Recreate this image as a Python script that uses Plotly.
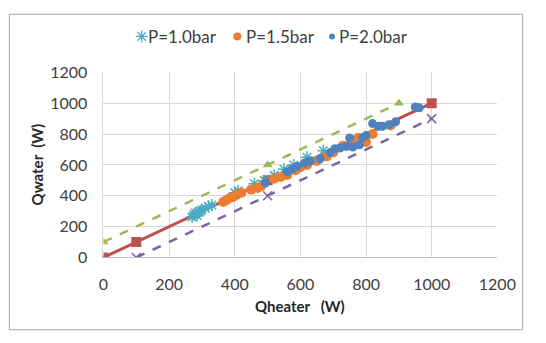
import plotly.graph_objects as go

# Reference lines
ref_x = [0, 100, 500, 1000]
ref_y = [0, 100, 500, 1000]
upper_x = [0, 500, 900]
upper_y = [100, 600, 1000]
lower_x = [100, 500, 1000]
lower_y = [0, 400, 900]

# P=1.0bar
p10_x = [270, 275, 280, 285, 290, 295, 300, 310, 320, 330, 400, 410, 460, 490, 520, 550, 580, 620, 670]
p10_y = [262, 278, 288, 272, 292, 300, 308, 320, 332, 340, 420, 432, 478, 498, 532, 572, 600, 650, 692]

# P=1.5bar
p15_x = [365, 375, 385, 395, 405, 420, 450, 470, 480, 520, 540, 560, 585, 600, 620, 650, 680, 700, 730, 760, 775, 800, 820, 875]
p15_y = [360, 372, 385, 392, 405, 420, 440, 450, 462, 510, 522, 535, 565, 585, 600, 625, 655, 680, 725, 745, 775, 748, 800, 856]

# P=2.0bar
p20_x = [493, 560, 575, 590, 612, 630, 660, 690, 705, 720, 740, 750, 760, 780, 790, 800, 820, 840, 850, 870, 890, 950, 962]
p20_y = [483, 555, 575, 590, 612, 625, 640, 680, 705, 710, 720, 775, 716, 730, 778, 790, 868, 850, 850, 860, 880, 975, 970]

series_names = ["P=1.0bar", "P=1.5bar", "P=2.0bar"]
x_title = "Qheater   (W)"
y_title = "Qwater  (W)"

W, H = 546, 343
# plot-area box in pixels
PL, PR, PT, PB = 103, 515, 66, 262

C_STAR = "#4BACC6"
C_ORANGE = "#ED7D31"
C_BLUE = "#4F81BD"
FONT = "Lato, Liberation Sans, Arial, sans-serif"


def fx(p):
    return p / W


def fy(p):
    return 1 - p / H


fig = go.Figure()

fig.add_trace(go.Scatter(x=upper_x, y=upper_y, mode="lines+markers", showlegend=False,
                         line=dict(color="#9BBB59", width=2.5, dash="dash"),
                         marker=dict(symbol="triangle-up", size=9, color="#9BBB59")))
fig.add_trace(go.Scatter(x=lower_x, y=lower_y, mode="lines+markers", showlegend=False,
                         line=dict(color="#8064A2", width=2.5, dash="dash"),
                         marker=dict(symbol="x-thin-open", size=9, color="#8064A2",
                                     line=dict(color="#8064A2", width=1.5))))
fig.add_trace(go.Scatter(x=ref_x, y=ref_y, mode="lines+markers", showlegend=False,
                         line=dict(color="#C0504D", width=3),
                         marker=dict(symbol="square", size=10, color="#C0504D")))

fig.add_trace(go.Scatter(x=p10_x, y=p10_y, mode="markers", name=series_names[0], showlegend=False,
                         marker=dict(symbol="asterisk-open", size=10, color=C_STAR,
                                     line=dict(color=C_STAR, width=1.5))))
fig.add_trace(go.Scatter(x=p15_x, y=p15_y, mode="markers", name=series_names[1], showlegend=False,
                         marker=dict(symbol="circle", size=10, color=C_ORANGE)))
fig.add_trace(go.Scatter(x=p20_x, y=p20_y, mode="markers", name=series_names[2], showlegend=False,
                         marker=dict(symbol="circle", size=9, color=C_BLUE)))

# Hand-made legend: symbols on a full-figure pixel overlay axis, text as annotations
leg_sym_x = [143, 243, 342]
leg_text_x = [148, 250, 347]
leg_y = 28
leg_styles = [
    dict(symbol="asterisk-open", size=10, color=C_STAR, line=dict(color=C_STAR, width=1.3)),
    dict(symbol="circle", size=8, color=C_ORANGE),
    dict(symbol="circle", size=6, color=C_BLUE),
]
for i, name in enumerate(series_names):
    fig.add_trace(go.Scatter(x=[leg_sym_x[i]], y=[leg_y], mode="markers", showlegend=False,
                             marker=leg_styles[i], xaxis="x2", yaxis="y2", hoverinfo="skip"))
    fig.add_annotation(x=fx(leg_text_x[i]), y=fy(leg_y), xref="paper", yref="paper", text=name,
                       showarrow=False, xanchor="left", yanchor="middle",
                       font=dict(family=FONT, size=17, color="#404040"))

# Axis titles
fig.add_annotation(x=fx((PL + PR) / 2), y=fy(313), xref="paper", yref="paper", text="<b>%s</b>" % x_title,
                   showarrow=False, xanchor="center", yanchor="middle",
                   font=dict(family=FONT, size=15, color="#262626"))
fig.add_annotation(x=fx(33), y=fy((PT + PB) / 2), xref="paper", yref="paper", text="<b>%s</b>" % y_title,
                   showarrow=False, xanchor="center", yanchor="middle", textangle=-90,
                   font=dict(family=FONT, size=15, color="#262626"))

# Chart border
fig.add_shape(type="rect", xref="paper", yref="paper",
              x0=fx(4.5), x1=fx(541.5), y0=fy(338.5), y1=fy(4.5),
              line=dict(color="#A6A6A6", width=1), fillcolor="rgba(0,0,0,0)")

fig.update_layout(
    width=W, height=H,
    margin=dict(l=0, r=0, t=0, b=0, pad=0),
    paper_bgcolor="white", plot_bgcolor="rgba(0,0,0,0)",
    font=dict(family=FONT, size=16, color="#404040"),
    showlegend=False,
    xaxis=dict(domain=[PL / W, PR / W], anchor="y", range=[0, 1200], dtick=200,
               showgrid=True, gridcolor="#D9D9D9", gridwidth=1,
               zeroline=False, showline=True, linecolor="#BFBFBF",
               ticks="outside", ticklen=12, tickcolor="rgba(0,0,0,0)",
               tickfont=dict(family=FONT, size=16, color="#404040")),
    yaxis=dict(domain=[(H - PB) / H, (H - PT) / H], anchor="x", range=[0, 1200], dtick=200,
               showgrid=True, gridcolor="#D9D9D9", gridwidth=1,
               zeroline=False, showline=True, linecolor="#D9D9D9",
               ticks="outside", ticklen=12, tickcolor="rgba(0,0,0,0)",
               tickfont=dict(family=FONT, size=16, color="#404040")),
    xaxis2=dict(domain=[0, 1], anchor="y2", range=[0, W], visible=False, fixedrange=True),
    yaxis2=dict(domain=[0, 1], anchor="x2", range=[H, 0], visible=False, fixedrange=True),
)

fig.write_html("out.html", config={"displayModeBar": False},
               post_script="document.body.style.margin='0';")
